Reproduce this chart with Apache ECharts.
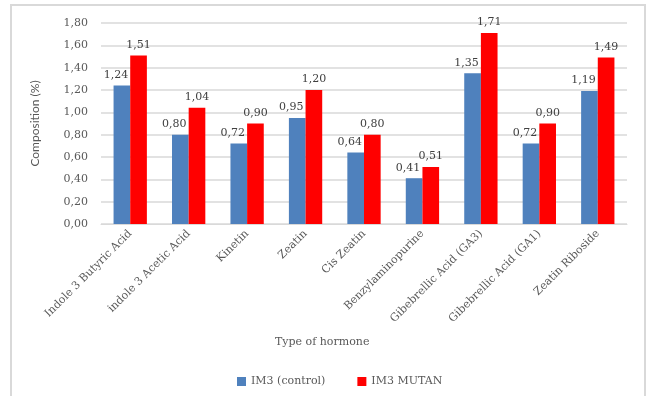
<!DOCTYPE html>
<html>
<head>
<meta charset="utf-8">
<script src="https://cdn.jsdelivr.net/npm/echarts@6/dist/echarts.min.js"></script>
<style>
  html, body { margin: 0; padding: 0; background: #fff; }
  #main { width: 646px; height: 396px; }
</style>
</head>
<body>
<div id="main"></div>
<script>
var hormones = ['Indole 3 Butyric Acid', 'indole 3 Acetic Acid', 'Kinetin', 'Zeatin', 'Cis Zeatin',
  'Benzylaminopurine', 'Gibebrellic Acid (GA3)', 'Gibebrellic Acid (GA1)', 'Zeatin Riboside'];
var control = [1.24, 0.80, 0.72, 0.95, 0.64, 0.41, 1.35, 0.72, 1.19];
var mutan = [1.51, 1.04, 0.90, 1.20, 0.80, 0.51, 1.71, 0.90, 1.49];

var serif = 'DejaVu Serif';
function comma(v) { return v.toFixed(2).replace('.', ','); }

var mycharts = echarts.init(document.getElementById('main'));
var option = {
  animation: false,
  graphic: [
    { type: 'rect', shape: { x: 11, y: 5, width: 634, height: 400 },
      style: { fill: 'none', stroke: '#d9d9d9', lineWidth: 2 } },
    { type: 'text', left: 275, top: 337,
      style: { text: 'Type of hormone', font: '11px "DejaVu Serif"', fill: '#595959' } }
  ],
  legend: {
    bottom: 4,
    left: 232,
    itemWidth: 9,
    itemHeight: 9,
    itemGap: 32,
    icon: 'rect',
    textStyle: { fontFamily: serif, fontSize: 11, color: '#595959' }
  },
  grid: { left: 101, right: 19, top: 23, bottom: 172 },
  xAxis: {
    type: 'category',
    data: hormones,
    axisLine: { lineStyle: { color: '#d9d9d9', width: 1 } },
    axisTick: { show: false },
    axisLabel: { rotate: 45, interval: 0, fontFamily: serif, fontSize: 11, color: '#595959', margin: 8 }
  },
  yAxis: {
    type: 'value',
    min: 0,
    max: 1.8,
    interval: 0.2,
    name: 'Composition (%)',
    nameLocation: 'middle',
    nameGap: 60,
    nameTextStyle: { fontFamily: 'Lato', fontSize: 12, color: '#595959' },
    axisLabel: { fontFamily: serif, fontSize: 11, color: '#595959', margin: 13, formatter: comma },
    splitLine: { lineStyle: { color: '#d9d9d9', width: 1.5 } }
  },
  series: [
    {
      name: 'IM3 (control)',
      type: 'bar',
      data: control,
      barGap: '0%',
      barCategoryGap: '43%',
      itemStyle: { color: '#4f81bd' },
      label: { show: true, position: 'top', distance: 5, offset: [-6, 0], fontFamily: serif, fontSize: 11, color: '#404040',
        formatter: function (p) { return comma(p.value); } }
    },
    {
      name: 'IM3 MUTAN',
      type: 'bar',
      data: mutan,
      itemStyle: { color: '#ff0000' },
      label: { show: true, position: 'top', distance: 5, fontFamily: serif, fontSize: 11, color: '#404040',
        formatter: function (p) { return comma(p.value); } }
    }
  ]
};
mycharts.setOption(option);
</script>
</body>
</html>
